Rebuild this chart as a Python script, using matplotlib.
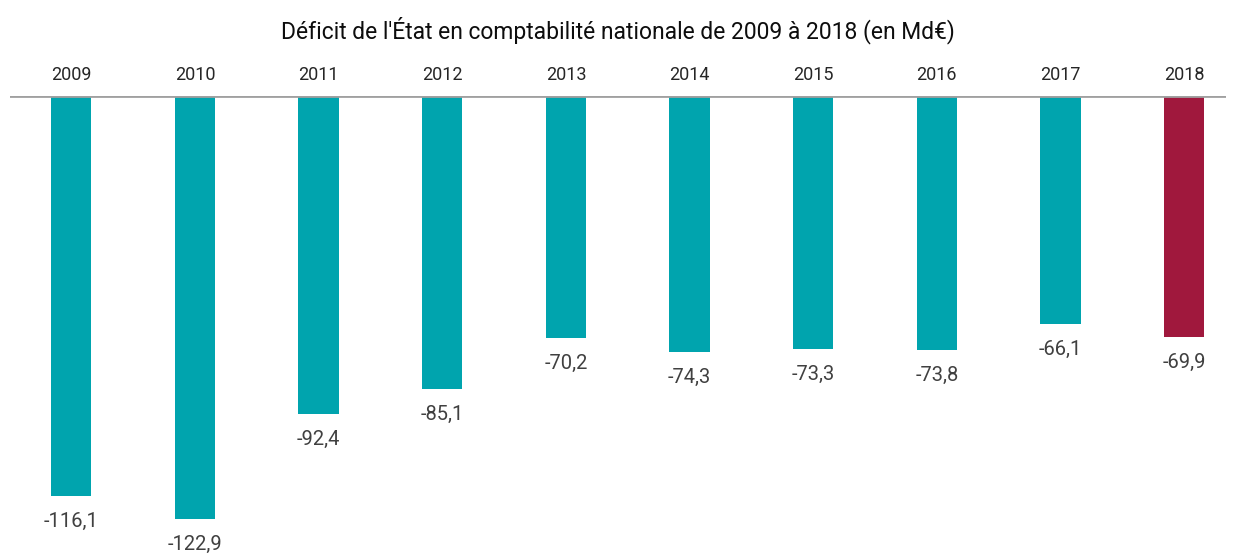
# State deficit bar chart code

# Load the necessary packages and modules
import matplotlib.pyplot as plt


# Deficit values in Md€ for each year
years = ['2009', '2010', '2011', '2012', '2013', '2014', '2015', '2016', '2017', '2018']
deficit = [-116.1, -122.9, -92.4, -85.1, -70.2, -74.3, -73.3, -73.8, -66.1, -69.9]
colors = ['#00A4AE'] * 9 + ['#A0183D']

plt.rcParams['font.family'] = ['Liberation Sans Narrow', 'Roboto', 'DejaVu Sans']

# Plotting the bars hanging below the zero line
fig = plt.figure(figsize=(12.36, 5.56), dpi=100)
ax = fig.add_axes([0.0081, 0.0, 0.984, 0.827])
pos = list(range(len(years)))
plt.bar(pos, deficit, width=0.325, color=colors)
for x, v in zip(pos, deficit):
    plt.text(x, v - 4.6, ('%.1f' % v).replace('.', ','), ha='center', va='top',
             fontsize=14.5, color='#404040')
for x, y in zip(pos, years):
    plt.text(x, 3.5, y, ha='center', va='bottom', fontsize=13, color='#262626')
plt.axhline(0, color='#a0a0a0', lw=2)
plt.xlim(-0.495, 9.34)
plt.ylim(-133.5, 0)
plt.axis('off')
fig.suptitle("Déficit de l'État en comptabilité nationale de 2009 à 2018 (en Md€)",
             y=0.97, fontsize=16.5, color='#0d0d0d')
fig.savefig('out.png', dpi=100)
